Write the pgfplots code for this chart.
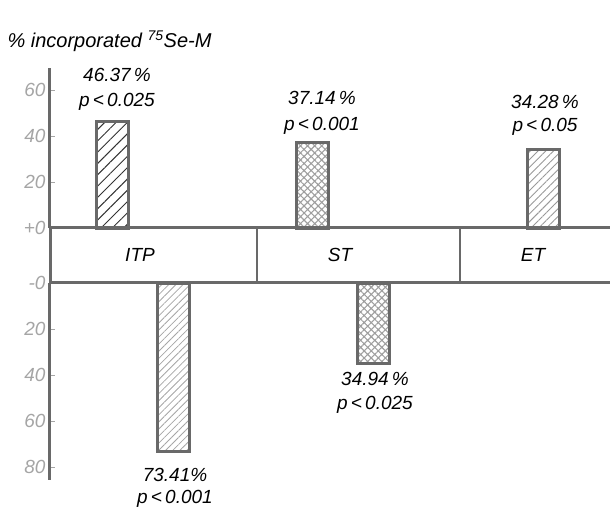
\documentclass[border=0pt]{standalone}
\usepackage{fontspec}
\setmainfont{Liberation Sans}
\usepackage{pgfplots}
\pgfplotsset{compat=1.18}
\usetikzlibrary{patterns,patterns.meta}
\definecolor{bargray}{RGB}{105,105,105}
\definecolor{ticklab}{RGB}{165,165,165}
\newcommand{\lf}{\fontsize{19}{22}\selectfont\itshape}
\pgfplotsset{
  common/.style={
    x=1pt, xmin=0, xmax=560,
    axis x line=none, axis y line=left,
    y axis line style={-, draw=bargray, line width=3pt},
    clip=false,
    tick align=inside, major tick length=5pt,
    ytick style={draw=ticklab, line width=0.8pt},
    yticklabel style={text=ticklab, font=\lf, xshift=-1pt},
  },
  barstyle/.style={ybar, bar width=32, bar shift=0pt, draw=bargray, line width=3.2pt},
}
\begin{document}
\begin{tikzpicture}
\useasboundingbox (0pt,0pt) rectangle (610pt,510pt);
% upper axis
\begin{axis}[common, y=2.3pt, ymin=0, ymax=69.6,
  ytick={0,20,40,60}, yticklabels={+0,20,40,60},
  anchor=south west, at={(50pt,282pt)}]
  \addplot[barstyle, pattern={Lines[angle=45,distance=8pt,line width=1pt]}, pattern color=black!80] coordinates {(62.5,46.37)};
  \addplot[barstyle, pattern={Hatch[angle=45,distance=5pt,line width=1.1pt]}, pattern color=gray!75] coordinates {(262.5,37.14)};
  \addplot[barstyle, pattern={Lines[angle=45,distance=5.5pt,line width=0.9pt]}, pattern color=gray!80] coordinates {(493.5,34.28)};
  \node[font=\lf] at (axis cs:67,66.5) {46.37\,\%};
  \node[font=\lf] at (axis cs:67,54.8) {p\,<\,0.025};
  \node[font=\lf] at (axis cs:272,56.5) {37.14\,\%};
  \node[font=\lf] at (axis cs:272,44.3) {p\,<\,0.001};
  \node[font=\lf] at (axis cs:495,54.8) {34.28\,\%};
  \node[font=\lf] at (axis cs:495,43.9) {p\,<\,0.05};
\end{axis}
% lower axis
\begin{axis}[common, y=2.3pt, y dir=reverse, ymin=0, ymax=85.6,
  ytick={0,20,40,60,80}, yticklabels={-0,20,40,60,80},
  anchor=north west, at={(50pt,227pt)}]
  \addplot[barstyle, pattern={Lines[angle=45,distance=5pt,line width=0.8pt]}, pattern color=gray!70] coordinates {(123.5,73.41)};
  \addplot[barstyle, pattern={Hatch[angle=45,distance=5pt,line width=1.1pt]}, pattern color=gray!75] coordinates {(323.5,34.94)};
  \node[font=\lf] at (axis cs:125,83.5) {73.41\%};
  \node[font=\lf] at (axis cs:125,94) {p\,<\,0.001};
  \node[font=\lf] at (axis cs:325,41.7) {34.94\,\%};
  \node[font=\lf] at (axis cs:325,52.8) {p\,<\,0.025};
\end{axis}
% central band
\draw[bargray, line width=3pt] (50pt,282pt) -- (610pt,282pt);
\draw[bargray, line width=3pt] (50pt,227pt) -- (610pt,227pt);
\draw[bargray, line width=3pt] (50pt,282pt) -- (50pt,227pt);
\draw[bargray, line width=1.6pt] (257pt,282pt) -- (257pt,227pt);
\draw[bargray, line width=1.6pt] (460pt,282pt) -- (460pt,227pt);
\node[font=\lf] at (140pt,255pt) {ITP};
\node[font=\lf] at (340pt,255pt) {ST};
\node[font=\lf] at (533pt,255pt) {ET};
% title
\node[anchor=base west, font=\fontsize{20}{24}\selectfont\itshape] at (4pt,462pt) {\% incorporated \textsuperscript{75}Se-M};
\end{tikzpicture}
\end{document}
